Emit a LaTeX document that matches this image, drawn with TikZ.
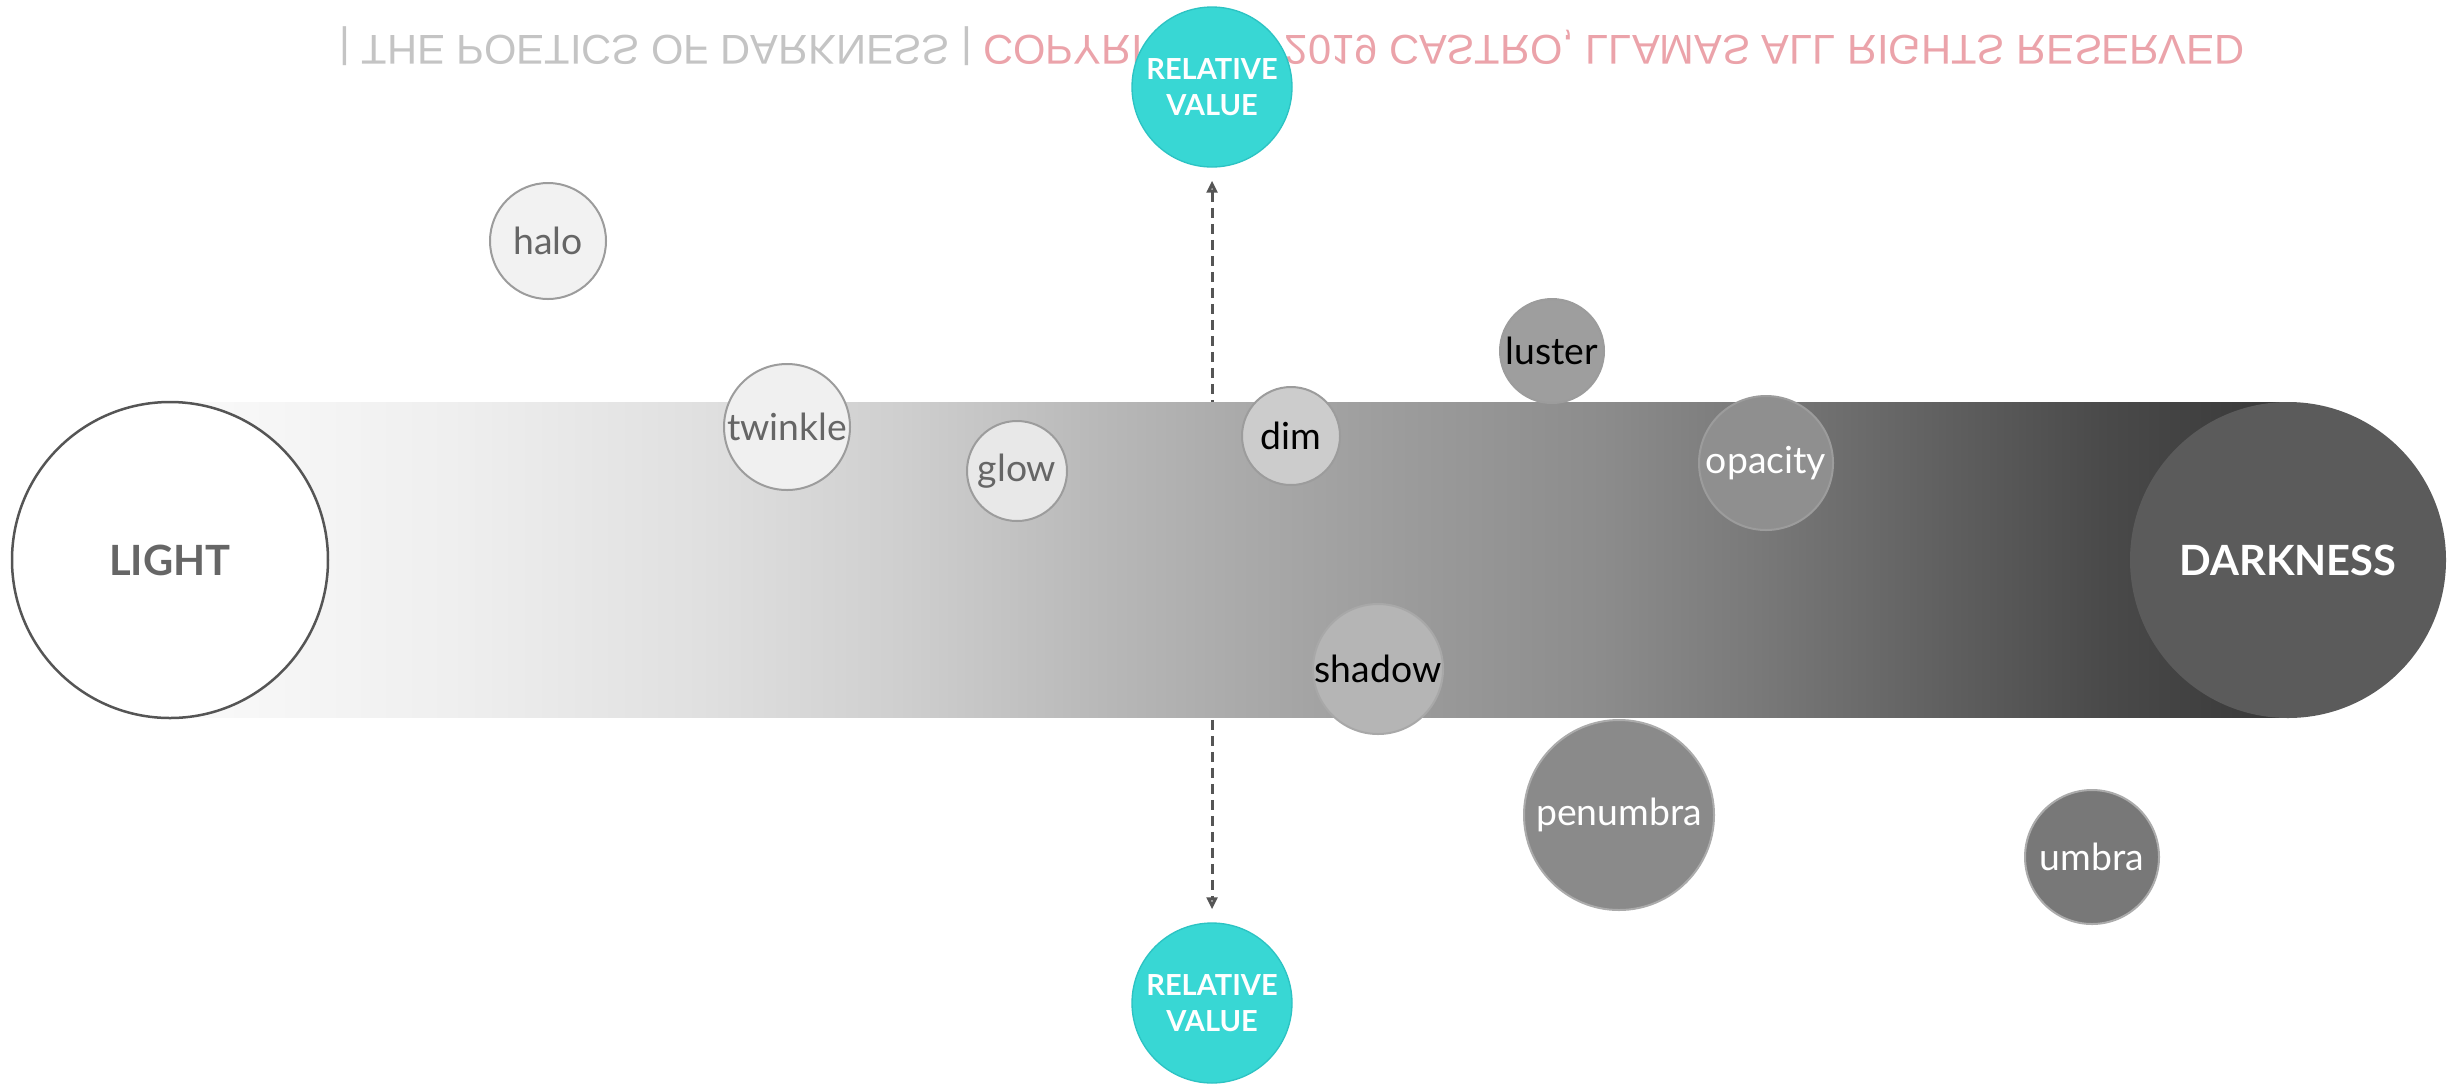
\documentclass[tikz,border=0pt]{standalone}
\usepackage{fontspec}
\setmainfont{Lato}
\newfontfamily\markfont{Liberation Sans}
\usetikzlibrary{arrows.meta}

% palette
\definecolor{tealfill}{HTML}{38D7D4}
\definecolor{tealedge}{HTML}{2CC3C3}
\definecolor{ringgray}{HTML}{9C9C9C}
\definecolor{labelgray}{HTML}{666666}
\definecolor{markgray}{HTML}{C4C4C4}
\definecolor{markpink}{HTML}{EBA3AA}
\definecolor{arrowgray}{HTML}{555555}

% bar tones, light to dark
\definecolor{bA}{HTML}{FAFAFA}
\definecolor{bB}{HTML}{EFEFEF}
\definecolor{bC}{HTML}{E0E0E0}
\definecolor{bD}{HTML}{CFCFCF}
\definecolor{bE}{HTML}{B8B8B8}
\definecolor{bF}{HTML}{ABABAB}
\definecolor{bG}{HTML}{9C9C9C}
\definecolor{bH}{HTML}{8C8C8C}
\definecolor{bI}{HTML}{7A7A7A}
\definecolor{bJ}{HTML}{666666}
\definecolor{bK}{HTML}{4A4A4A}
\definecolor{bL}{HTML}{383838}

\pgfdeclarehorizontalshading{barshade}{100bp}{%
  color(0bp)=(bA); color(25bp)=(bA); color(31.6bp)=(bB); color(37.5bp)=(bC);
  color(42.2bp)=(bD); color(47bp)=(bE); color(50bp)=(bF); color(54bp)=(bG);
  color(58.8bp)=(bH); color(62.3bp)=(bI); color(65.8bp)=(bJ); color(70.6bp)=(bK);
  color(75bp)=(bL); color(100bp)=(bL)}

\tikzset{
  word/.style={circle, inner sep=0pt, draw=ringgray, line width=0.6pt,
    font=\fontsize{11.2}{13}\selectfont},
  pole/.style={circle, inner sep=0pt, minimum size=94.8pt,
    font=\fontsize{12.5}{15}\selectfont\bfseries},
  relval/.style={circle, inner sep=0pt, minimum size=48pt, fill=tealfill,
    draw=tealedge, line width=0.4pt, text=white, align=center,
    font=\fontsize{8.7}{10.8}\selectfont\bfseries},
  axis/.style={arrowgray, line width=0.9pt, dash pattern=on 3pt off 1.8pt,
    {Triangle[open, length=3.6pt, width=3.2pt]}-{Triangle[open, length=3.6pt, width=3.2pt]},
    shorten <=3.9pt, shorten >=3.9pt}
}

\begin{document}
\begin{tikzpicture}[x=0.3pt, y=-0.3pt]
\useasboundingbox (0,0) rectangle (2451,1084);

% mirrored running title
\node[inner sep=0pt] (title) at (1292,46)
  {\scalebox{1}[-1]{\resizebox{571.5pt}{!}{\markfont
   \color{markgray}| THE POETICS OF DARKNESS | \color{markpink}COPYRIGHT © 2019 CASTRO, LLAMAS ALL RIGHTS RESERVED}}};

% relative value markers
\node[relval] (rvtop) at (1212,87) {RELATIVE\\VALUE};
\node[relval] (rvbot) at (1212,1003) {RELATIVE\\VALUE};
\draw[axis] (rvtop) -- (rvbot);

% light-to-dark bar
\shade[shading=barshade] (170,402) rectangle (2288,717);

% poles
\node[pole, fill=white, draw=arrowgray, line width=0.75pt, text=labelgray] (light) at (170,560) {LIGHT};
\node[pole, fill=black!64.5, text=white] (dark) at (2288,560) {DARKNESS};

% words placed along the scale
\node[word, minimum size=34.8pt, fill=black!5, text=labelgray] (halo) at (548,241) {halo};
\node[word, minimum size=37.8pt, fill=black!6, text=labelgray] (twinkle) at (787,427) {twinkle};
\node[word, minimum size=30pt, fill=black!9, text=labelgray] (glow) at (1017,471) {glow};
\node[word, minimum size=29.4pt, fill=black!20, text=black] (dim) at (1291,436) {dim};
\node[word, minimum size=31.2pt, fill=black!38, text=black] (luster) at (1552,351) {luster};
\node[word, minimum size=40.2pt, fill=black!44, text=white] (opacity) at (1766,463) {opacity};
\node[word, minimum size=39pt, fill=black!29, draw=black!34, text=black] (shadow) at (1378,669) {shadow};
\node[word, minimum size=57pt, fill=black!46, draw=black!33, text=white] (penumbra) at (1619,815) {penumbra};
\node[word, minimum size=40.2pt, fill=black!53, draw=black!33, text=white] (umbra) at (2092,857) {umbra};
\end{tikzpicture}
\end{document}
